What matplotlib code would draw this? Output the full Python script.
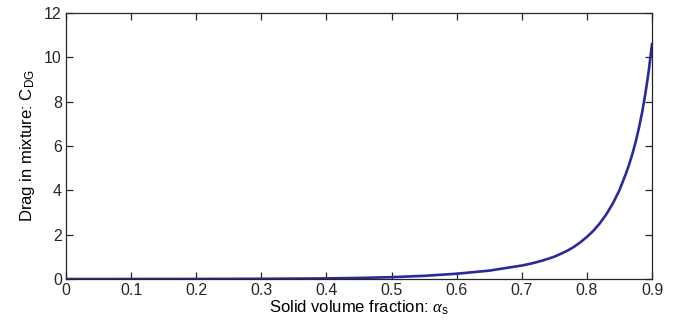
import numpy as np
import matplotlib
matplotlib.use('Agg')
import matplotlib.pyplot as plt

# Values
alpha_s = [0.0, 0.1, 0.2, 0.3, 0.35, 0.4, 0.45, 0.5, 0.55, 0.6, 0.65, 0.7,
           0.71, 0.72, 0.73, 0.74, 0.75, 0.76, 0.77, 0.78, 0.79, 0.8,
           0.81, 0.82, 0.83, 0.84, 0.85, 0.86, 0.865, 0.87, 0.875, 0.88,
           0.885, 0.89, 0.895, 0.9]
c_dg = [0.0, 0.002, 0.005, 0.012, 0.02, 0.03, 0.05, 0.085, 0.145, 0.24, 0.38, 0.61,
        0.67, 0.74, 0.82, 0.91, 1.01, 1.14, 1.28, 1.45, 1.66, 1.90,
        2.18, 2.52, 2.93, 3.42, 4.01, 4.76, 5.18, 5.66, 6.20, 6.83,
        7.55, 8.40, 9.40, 10.6]

x_ticks = [0, 0.1, 0.2, 0.3, 0.4, 0.5, 0.6, 0.7, 0.8, 0.9]
y_ticks = [0, 2, 4, 6, 8, 10, 12]

plt.rcParams.update({
    'font.family': ['Liberation Sans', 'DejaVu Sans'],
    'font.size': 11,
    'mathtext.fontset': 'custom',
    'mathtext.rm': 'Liberation Sans',
    'mathtext.it': 'Liberation Serif:italic',
})

fig = plt.figure(figsize=(6.78, 3.33), dpi=100)
ax = fig.add_axes([0.0973, 0.162, 0.8644, 0.799])

ax.plot(alpha_s, c_dg, color='#2a2a9a', linewidth=1.9)

ax.set_xlim(0, 0.9)
ax.set_ylim(0, 12)
ax.set_xticks(x_ticks)
ax.set_xticklabels([f'{v:g}' for v in x_ticks])
ax.set_yticks(y_ticks)
ax.tick_params(direction='in', top=True, right=True, length=5, width=0.9,
               labelsize=11.5, colors='#262626', pad=3)
for s in ax.spines.values():
    s.set_linewidth(0.9)
    s.set_color('#262626')

ax.set_xlabel(r'Solid volume fraction: $\alpha_{\rm s}$', fontsize=12, labelpad=0)
ax.set_ylabel(r'Drag in mixture: C$_{\rm DG}$', fontsize=12, labelpad=5)

fig.savefig('out.png', dpi=100)
plt.close(fig)
